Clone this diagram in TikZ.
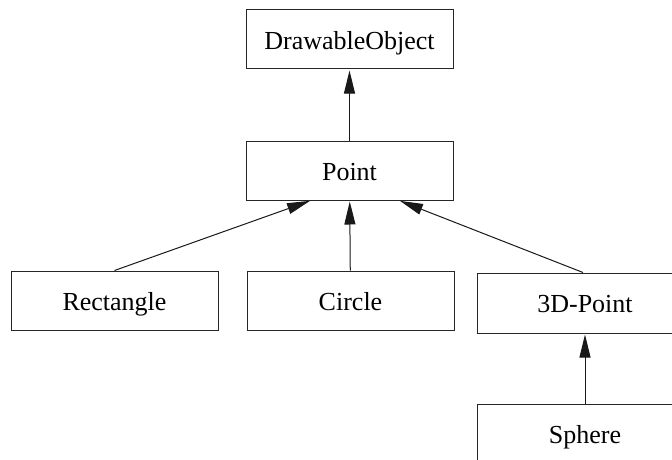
\documentclass[tikz,border=0pt]{standalone}
\usepackage{fontspec}
\setmainfont{Liberation Serif}
\usetikzlibrary{arrows.meta}
\begin{document}
\begin{tikzpicture}[x=1pt,y=-1pt,
  cls/.style={draw=black!85,line width=1pt,minimum width=207pt,minimum height=59pt,
    inner sep=0pt,text height=19pt,text depth=0pt,font=\fontsize{26pt}{30pt}\selectfont},
  inh/.style={draw=black!90,line width=1pt,-{Triangle[length=23pt,width=11pt]},shorten >=1pt}]
\useasboundingbox (0,0) rectangle (672,460);
\clip (0,0) rectangle (672,460);
\node[cls] (do) at (349.5,39.5) {DrawableObject};
\node[cls] (pt) at (349.5,170.5) {Point};
\node[cls] (rect) at (114.5,300.5) {Rectangle};
\node[cls] (circ) at (350.5,300.5) {Circle};
\node[cls,minimum width=216pt,minimum height=60pt] (p3d) at (585,303) {3D-Point};
\node[cls,minimum width=216pt] (sph) at (585,433.5) {Sphere};
\coordinate (pl) at ([xshift=-38.5pt]pt.south);
\coordinate (pr) at ([xshift=49.5pt]pt.south);
\draw[inh] (pt) -- (do);
\draw[inh] (rect.north) -- (pl);
\draw[inh] (circ) -- (pt);
\draw[inh] ([xshift=-2pt]p3d.north) -- (pr);
\draw[inh] (sph) -- (p3d);
\end{tikzpicture}
\end{document}
